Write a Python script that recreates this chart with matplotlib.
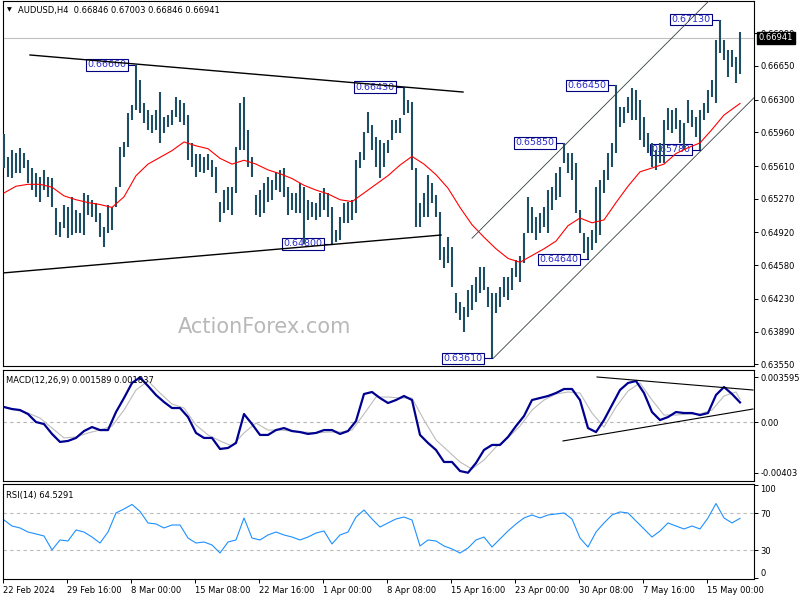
import numpy as np
import matplotlib.pyplot as plt
from matplotlib.transforms import blended_transform_factory

# --- price bars (each bar = high / low) ---
highs = [0.6594, 0.6570, 0.6578, 0.6575, 0.6580, 0.6575, 0.6567, 0.6559, 0.6554, 0.6550,
         0.6557, 0.6550, 0.6549, 0.6517, 0.6503, 0.6521, 0.6518, 0.6529, 0.6515, 0.6512,
         0.6533, 0.6531, 0.6526, 0.6523, 0.6512, 0.6498, 0.6521, 0.6518, 0.6539, 0.6581,
         0.6586, 0.6616, 0.6624, 0.6666, 0.6650, 0.6627, 0.6619, 0.6614, 0.6619, 0.6638,
         0.6612, 0.6614, 0.6619, 0.6633, 0.6630, 0.6627, 0.6614, 0.6585, 0.6573, 0.6573,
         0.6570, 0.6573, 0.6567, 0.6560, 0.6524, 0.6536, 0.6539, 0.6539, 0.6581, 0.6627,
         0.6633, 0.6598, 0.6570, 0.6531, 0.6536, 0.6543, 0.6550, 0.6547, 0.6555, 0.6557,
         0.6559, 0.6539, 0.6533, 0.6533, 0.6543, 0.6539, 0.6526, 0.6524, 0.6523, 0.6533,
         0.6538, 0.6533, 0.6518, 0.6495, 0.6508, 0.6523, 0.6524, 0.6526, 0.6567, 0.6576,
         0.6596, 0.6617, 0.6604, 0.6591, 0.6588, 0.6585, 0.6588, 0.6609, 0.6609, 0.6611,
         0.6643, 0.6630, 0.6628, 0.6559, 0.6523, 0.6533, 0.6552, 0.6543, 0.6531, 0.6513,
         0.6477, 0.6487, 0.6477, 0.6429, 0.6420, 0.6415, 0.6432, 0.6437, 0.6446, 0.6456,
         0.6456, 0.6435, 0.6429, 0.6429, 0.6435, 0.6446, 0.6446, 0.6455, 0.6463, 0.6467,
         0.6491, 0.6529, 0.6518, 0.6508, 0.6512, 0.6518, 0.6536, 0.6539, 0.6554, 0.6560,
         0.6585, 0.6575, 0.6575, 0.6564, 0.6515, 0.6491, 0.6487, 0.6495, 0.6539, 0.6547,
         0.6557, 0.6575, 0.6585, 0.6645, 0.6622, 0.6622, 0.6633, 0.6642, 0.6640, 0.6630,
         0.6612, 0.6595, 0.6585, 0.6578, 0.6585, 0.6609, 0.6621, 0.6619, 0.6621, 0.6609,
         0.6606, 0.6630, 0.6619, 0.6612, 0.6619, 0.6627, 0.6640, 0.6650, 0.6692, 0.6713,
         0.6692, 0.6682, 0.6682, 0.6674, 0.6700]
lows = [0.6559, 0.6550, 0.6549, 0.6554, 0.6554, 0.6559, 0.6543, 0.6536, 0.6529, 0.6524,
        0.6536, 0.6529, 0.6518, 0.6489, 0.6487, 0.6497, 0.6486, 0.6489, 0.6491, 0.6491,
        0.6489, 0.6510, 0.6508, 0.6503, 0.6487, 0.6477, 0.6491, 0.6495, 0.6518, 0.6539,
        0.6570, 0.6581, 0.6609, 0.6619, 0.6616, 0.6606, 0.6598, 0.6595, 0.6598, 0.6585,
        0.6595, 0.6602, 0.6604, 0.6612, 0.6607, 0.6604, 0.6567, 0.6560, 0.6550, 0.6555,
        0.6554, 0.6557, 0.6550, 0.6533, 0.6503, 0.6512, 0.6515, 0.6510, 0.6533, 0.6578,
        0.6578, 0.6560, 0.6550, 0.6510, 0.6508, 0.6512, 0.6524, 0.6526, 0.6536, 0.6534,
        0.6529, 0.6510, 0.6515, 0.6512, 0.6512, 0.6480, 0.6505, 0.6508, 0.6505, 0.6508,
        0.6515, 0.6508, 0.6480, 0.6482, 0.6484, 0.6502, 0.6502, 0.6505, 0.6512, 0.6559,
        0.6567, 0.6595, 0.6578, 0.6560, 0.6549, 0.6560, 0.6575, 0.6588, 0.6595, 0.6595,
        0.6614, 0.6616, 0.6557, 0.6498, 0.6498, 0.6508, 0.6508, 0.6523, 0.6508, 0.6463,
        0.6455, 0.6460, 0.6435, 0.6408, 0.6401, 0.6389, 0.6404, 0.6411, 0.6420, 0.6429,
        0.6432, 0.6414, 0.6361, 0.6408, 0.6415, 0.6425, 0.6422, 0.6432, 0.6446, 0.6440,
        0.6460, 0.6491, 0.6491, 0.6484, 0.6491, 0.6498, 0.6491, 0.6515, 0.6526, 0.6529,
        0.6564, 0.6554, 0.6547, 0.6512, 0.6491, 0.6471, 0.6464, 0.6474, 0.6481, 0.6489,
        0.6533, 0.6547, 0.6560, 0.6575, 0.6602, 0.6606, 0.6616, 0.6609, 0.6609, 0.6588,
        0.6581, 0.6575, 0.6560, 0.6557, 0.6564, 0.6564, 0.6598, 0.6595, 0.6600, 0.6585,
        0.6578, 0.6606, 0.6602, 0.6591, 0.6578, 0.6609, 0.6616, 0.6633, 0.6627, 0.6678,
        0.6671, 0.6654, 0.6664, 0.6647, 0.6657]

# red moving average, read every 3 bars
ma_idx = list(range(0, 184, 3)) + [184]
ma_vals = [0.6533, 0.6540, 0.6542, 0.6542, 0.6539, 0.6530, 0.6526, 0.6523, 0.6521, 0.6518,
           0.6529, 0.6551, 0.6563, 0.6570, 0.6577, 0.6586, 0.6582, 0.6579, 0.6569, 0.6563,
           0.6567, 0.6563, 0.6557, 0.6553, 0.6548, 0.6541, 0.6536, 0.6532, 0.6526, 0.6524,
           0.6533, 0.6542, 0.6551, 0.6562, 0.6571, 0.6563, 0.6552, 0.6538, 0.6518, 0.6500,
           0.6487, 0.6475, 0.6465, 0.6461, 0.6468, 0.6475, 0.6483, 0.6499, 0.6507, 0.6502,
           0.6505, 0.6523, 0.6540, 0.6555, 0.6559, 0.6563, 0.6574, 0.6580, 0.6585, 0.6599,
           0.6614, 0.6623, 0.6626]

# MACD main line (every 2 bars) and signal (every 3 bars)
macd_idx = list(range(0, 185, 2))
macd_vals = [0.00122, 0.00106, 0.00098, 0.00066, 0.00002, -0.00014, -0.00093, -0.00157, -0.00149, -0.00125,
             -0.00070, -0.00038, -0.00062, -0.00062, 0.00082, 0.00194, 0.00314, 0.00359, 0.00290, 0.00218,
             0.00162, 0.00114, 0.00114, 0.00042, -0.00085, -0.00125, -0.00125, -0.00213, -0.00205, -0.00165,
             0.00066, -0.00014, -0.00101, -0.00101, -0.00062, -0.00046, -0.00070, -0.00078, -0.00093, -0.00085,
             -0.00062, -0.00062, -0.00093, -0.00070, 0.00010, 0.00226, 0.00242, 0.00194, 0.00154, 0.00178,
             0.00210, 0.00178, -0.00101, -0.00165, -0.00221, -0.00317, -0.00317, -0.00389, -0.00403, -0.00325,
             -0.00221, -0.00181, -0.00181, -0.00117, -0.00030, 0.00050, 0.00178, 0.00194, 0.00210, 0.00234,
             0.00266, 0.00266, 0.00178, -0.00046, -0.00078, 0.00018, 0.00138, 0.00258, 0.00314, 0.00330,
             0.00234, 0.00082, 0.00018, 0.00042, 0.00082, 0.00074, 0.00074, 0.00058, 0.00074, 0.00218,
             0.00282, 0.00226, 0.00159]
signal_idx = ma_idx
signal_vals = [0.00122, 0.00098, 0.00074, 0.00034, -0.00046, -0.00125, -0.00117, -0.00085, -0.00062, -0.00030,
               0.00098, 0.00258, 0.00330, 0.00234, 0.00146, 0.00114, -0.00022, -0.00101, -0.00149, -0.00189,
               -0.00085, -0.00006, -0.00062, -0.00062, -0.00070, -0.00078, -0.00085, -0.00078, -0.00078, -0.00062,
               0.00066, 0.00202, 0.00202, 0.00194, 0.00194, 0.00018, -0.00141, -0.00229, -0.00317, -0.00373,
               -0.00301, -0.00197, -0.00125, -0.00030, 0.00098, 0.00178, 0.00226, 0.00242, 0.00234, 0.00074,
               -0.00038, 0.00122, 0.00250, 0.00314, 0.00178, 0.00058, 0.00058, 0.00066, 0.00066, 0.00098,
               0.00210, 0.00242, 0.00184]

# RSI(14), every 2 bars
rsi_idx = macd_idx
rsi_vals = [62.7, 56.2, 54.1, 49.7, 47.6, 45.4, 30.3, 41.1, 40.0, 51.9,
            49.7, 44.3, 37.8, 49.7, 70.3, 74.6, 79.5, 72.0, 59.5, 58.4,
            54.1, 57.3, 57.3, 43.2, 37.8, 38.9, 35.7, 27.0, 38.9, 41.1,
            64.9, 43.2, 41.1, 46.5, 49.7, 46.5, 44.3, 41.1, 44.3, 48.6,
            50.8, 36.8, 46.5, 49.7, 65.9, 73.5, 63.8, 55.1, 59.5, 63.8,
            65.9, 62.7, 34.6, 41.1, 40.0, 34.6, 31.4, 27.0, 32.4, 41.1,
            44.3, 33.5, 42.2, 50.8, 58.4, 64.9, 68.1, 64.9, 68.1, 69.2,
            70.3, 63.8, 43.2, 33.5, 49.7, 59.5, 68.1, 71.4, 70.3, 61.6,
            53.0, 44.3, 50.8, 59.5, 56.2, 53.0, 56.2, 53.0, 64.9, 80.5,
            64.9, 59.5, 64.5]

# swing labels
label_bars = [33, 100, 82, 122, 140, 146, 153, 174, 179]
label_prices = [0.6666, 0.6643, 0.6480, 0.6361, 0.6585, 0.6464, 0.6645, 0.6578, 0.6713]
label_texts = ['0.66660', '0.66430', '0.64800', '0.63610', '0.65850', '0.64640', '0.66450', '0.65780', '0.67130']

# trendlines: (x0, y0, x1, y1)
price_lines = [(6.5, 0.66764, 114.75, 0.66379), (-0.25, 0.64499, 109.25, 0.64893)]
channel_lines = [(117, 0.6486, 178, 0.6740), (122.25, 0.6361, 187.5, 0.6632)]
macd_lines = [(148.25, 0.00362, 187.25, 0.00258), (139.75, -0.00149, 187.25, 0.00106)]

price_ticks = [0.6699, 0.6665, 0.6630, 0.6596, 0.6561, 0.6527, 0.6492, 0.6458, 0.6423, 0.6389, 0.6355]
price_tick_labels = ['0.66990', '0.66650', '0.66300', '0.65960', '0.65610', '0.65270',
                     '0.64920', '0.64580', '0.64230', '0.63890', '0.63550']
last_price = 0.66941

x_labels = ['22 Feb 2024', '29 Feb 16:00', '8 Mar 00:00', '15 Mar 08:00', '22 Mar 16:00', '1 Apr 00:00',
            '8 Apr 08:00', '15 Apr 16:00', '23 Apr 00:00', '30 Apr 08:00', '7 May 16:00', '15 May 00:00']
x_label_pos = [-0.25 + 16 * k for k in range(len(x_labels))]

plt.rcParams['font.family'] = 'DejaVu Sans'
fig = plt.figure(figsize=(8, 6), dpi=100)
ax1 = fig.add_axes([0.003125, 0.39, 0.939375, 0.60833])
ax2 = fig.add_axes([0.003125, 0.19833, 0.939375, 0.18583])
ax3 = fig.add_axes([0.003125, 0.035, 0.939375, 0.15833])

for ax in (ax1, ax2, ax3):
    ax.set_xlim(-0.375, 187.5)
    for s in ax.spines.values():
        s.set_linewidth(0.8)
        s.set_color('black')
    ax.yaxis.tick_right()
    ax.tick_params(axis='y', direction='out', length=3, width=0.7, pad=1.5, labelsize=6)
    ax.tick_params(axis='x', bottom=False, labelbottom=False)

# --- main price panel ---
x = np.arange(len(highs))
ax1.set_ylim(0.63532, 0.67325)
ax1.axhline(last_price, color='#c0c0c0', lw=0.8, zorder=1)
ax1.vlines(x, lows, highs, color='#1d4e63', lw=1.5, zorder=3)
ax1.plot(ma_idx, ma_vals, color='red', lw=0.8, zorder=3.5)
for x0, y0, x1, y1 in price_lines:
    ax1.plot([x0, x1], [y0, y1], color='black', lw=1.0, zorder=4)
for x0, y0, x1, y1 in channel_lines:
    ax1.plot([x0, x1], [y0, y1], color='#34403f', lw=0.6, zorder=4)
for b, p, t in zip(label_bars, label_prices, label_texts):
    xr = b - 2.4
    ax1.plot([xr, b], [p, p], color='#000080', lw=0.8, zorder=2)
    ax1.text(xr, p, t, ha='right', va='center', fontsize=6.8, color='#2a2ac8', zorder=2,
             bbox=dict(boxstyle='square,pad=0.12', fc='white', ec='#000080', lw=0.8))
ax1.set_yticks(price_ticks)
ax1.set_yticklabels(price_tick_labels)
trans = blended_transform_factory(ax1.transAxes, ax1.transData)
ax1.text(1.006, last_price, '0.66941', transform=trans, ha='left', va='center', fontsize=6,
         color='white', clip_on=False, zorder=10,
         bbox=dict(boxstyle='square,pad=0.2', fc='black', ec='black'))

# --- MACD panel ---
ax2.set_ylim(-0.00469, 0.004218)
ax2.axhline(0, color='#b4b4b4', lw=0.8, linestyle=(0, (3, 3)))
ax2.plot(signal_idx, signal_vals, color='#bcbcbc', lw=0.8, zorder=2)
ax2.plot(macd_idx, macd_vals, color='#000090', lw=1.6, zorder=3)
for x0, y0, x1, y1 in macd_lines:
    ax2.plot([x0, x1], [y0, y1], color='black', lw=0.8, zorder=4)
ax2.set_yticks([-0.00403, 0, 0.003595])
ax2.set_yticklabels(['-0.00403', '0.00', '0.003595'])
ax2.text(0.005, 0.94, 'MACD(12,26,9) 0.001589 0.001837', transform=ax2.transAxes,
         ha='left', va='top', fontsize=6)

# --- RSI panel ---
ax3.set_ylim(-1.08, 101.6)
for lv in (70, 30):
    ax3.axhline(lv, color='#bbbbbb', lw=0.8, linestyle=(0, (3, 3)))
ax3.plot(rsi_idx, rsi_vals, color='#1e90ff', lw=0.8)
ax3.set_yticks([0, 30, 70, 100])
ax3.set_yticklabels(['0', '30', '70', '100'])
ylabs = ax3.get_yticklabels()
ylabs[0].set_va('bottom')
ylabs[-1].set_va('top')
ax3.text(0.005, 0.93, 'RSI(14) 64.5291', transform=ax3.transAxes,
         ha='left', va='top', fontsize=6)
ax3.set_xticks(x_label_pos)
ax3.set_xticklabels(x_labels, ha='left')
ax3.tick_params(axis='x', bottom=True, labelbottom=True, direction='out', length=3,
                width=0.7, pad=2, labelsize=6)

# header and watermark
fig.text(7 / 800, 1 - 10 / 600, '\u25bc', fontsize=4.5, ha='left', va='center')
fig.text(18 / 800, 1 - 10 / 600, 'AUDUSD,H4  0.66846 0.67003 0.66846 0.66941',
         fontsize=6, ha='left', va='center')
fig.text(265 / 800, 1 - 327 / 600, 'ActionForex.com', fontsize=15, color='#b8b8b8',
         ha='center', va='center')

fig.savefig('out.png', dpi=100)
